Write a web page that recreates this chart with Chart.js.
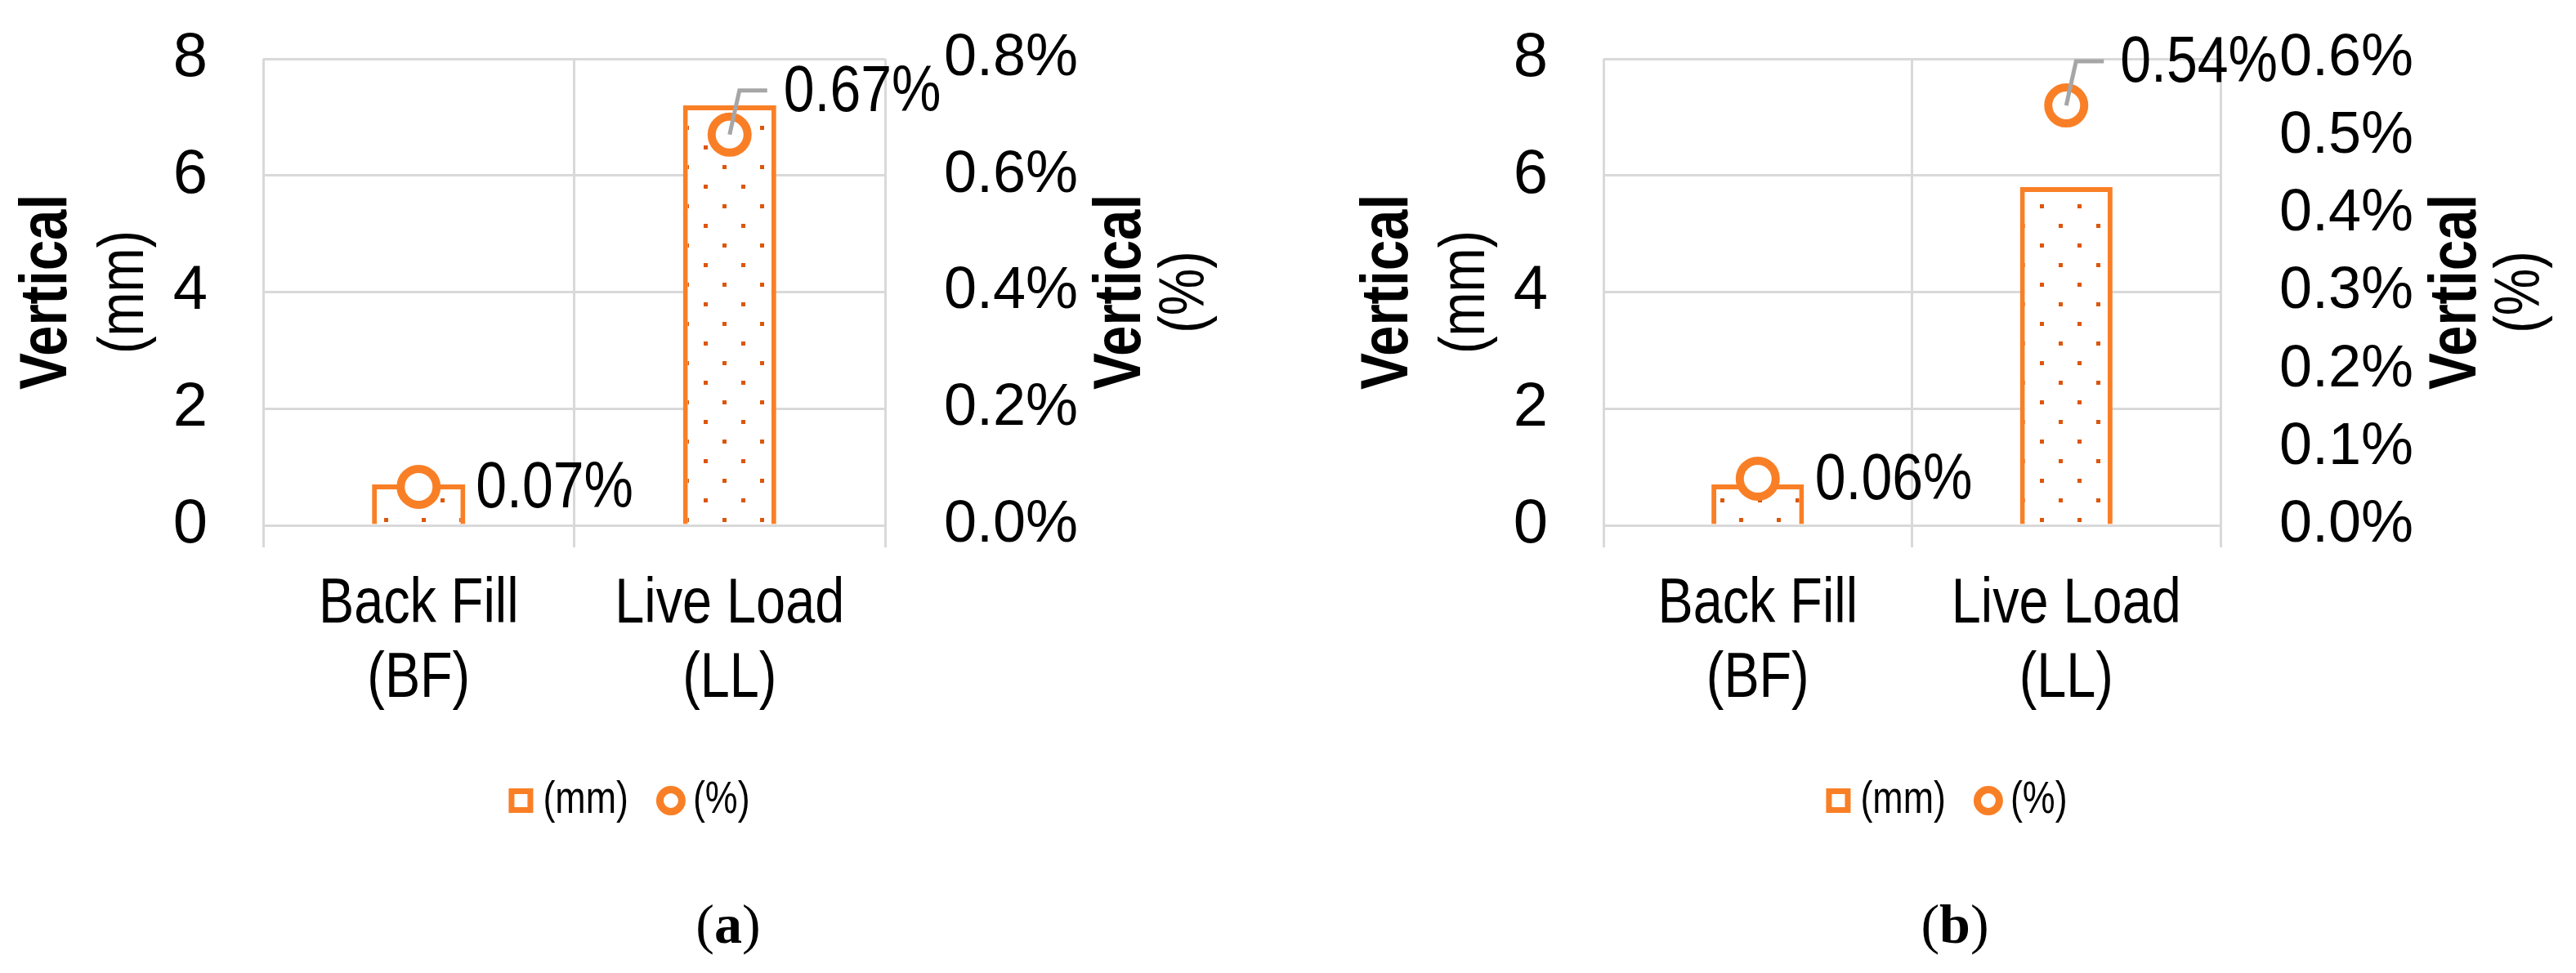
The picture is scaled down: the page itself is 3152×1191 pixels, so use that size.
<!DOCTYPE html>
<html>
<head>
<meta charset="utf-8">
<script src="https://cdn.jsdelivr.net/npm/chart.js@4.4.1/dist/chart.umd.min.js"></script>
<style>
  body { margin: 0; background: #fff; width: 3152px; height: 1191px; position: relative; overflow: hidden; }
  .panel { position: absolute; top: 0; width: 1540px; height: 1040px; }
  .cap { position: absolute; top: 1092px; font-family: 'Liberation Serif', 'Times New Roman', serif; font-size: 68px; color: #000; transform: translateX(-50%); }
</style>
</head>
<body>
<div class="panel" style="left:0"><canvas id="chartA"></canvas></div>
<div class="panel" style="left:1612px"><canvas id="chartB"></canvas></div>
<div class="cap" style="left:891px">(<b>a</b>)</div>
<div class="cap" style="left:2392px">(<b>b</b>)</div>
<script>
// données
const categories = [['Back Fill', '(BF)'], ['Live Load', '(LL)']];
const seriesNames = ['(mm)', '(%)'];
const mmA = [0.7, 7.2];      // tassement vertical (mm) - cas (a)
const pctA = [0.066, 0.67];  // tassement vertical (%) - cas (a)
const mmB = [0.7, 5.8];      // cas (b)
const pctB = [0.06, 0.54];
const mmAxis = { max: 8, step: 2 };
const pctAxisA = { max: 0.8, step: 0.2 };
const pctAxisB = { max: 0.6, step: 0.1 };

const ORANGE = '#F97F26';
const GRID = '#D9D9D9';
const SANS = "'Liberation Sans', Arial, sans-serif";
const COND = 0.83;  // le texte de la figure est étroit (pas de police "Narrow" installée)

function dotPattern() {
    const c = document.createElement('canvas');
    c.width = 46; c.height = 48;
    const g = c.getContext('2d');
    g.fillStyle = '#fff';
    g.fillRect(0, 0, 46, 48);
    g.fillStyle = '#DC560B';
    g.fillRect(10, 10, 5, 5);
    g.fillRect(33, 34, 5, 5);
    return g.createPattern(c, 'repeat');
}

function drawCondensed(ctx, text, x, y, sx) {
    ctx.save();
    ctx.translate(x, y);
    ctx.scale(sx, 1);
    ctx.fillText(text, 0, 0);
    ctx.restore();
}

// étiquettes des points (%), avec trait de rappel gris pour la valeur haute
const pointLabels = {
    id: 'pointLabels',
    afterDatasetsDraw(chart, args, opts) {
        const meta = chart.getDatasetMeta(1);
        const values = chart.data.datasets[1].data;
        const ctx = chart.ctx;
        ctx.save();
        ctx.font = '80px ' + SANS;
        ctx.fillStyle = '#000';
        ctx.textAlign = 'left';
        ctx.textBaseline = 'middle';
        meta.data.forEach((pt, i) => {
            const txt = values[i].toFixed(2) + '%';
            if (opts.leader[i]) {
                ctx.strokeStyle = '#A6A6A6';
                ctx.lineWidth = 5;
                ctx.beginPath();
                ctx.moveTo(pt.x, pt.y);
                ctx.lineTo(pt.x + 12, pt.y - 54);
                ctx.lineTo(pt.x + 46, pt.y - 54);
                ctx.stroke();
                drawCondensed(ctx, txt, pt.x + 66, pt.y - 51, 0.85);
            } else {
                drawCondensed(ctx, txt, pt.x + 70, pt.y + 3, 0.85);
            }
        });
        ctx.restore();
    }
};

// libellés des catégories sur deux lignes
const categoryLabels = {
    id: 'categoryLabels',
    afterDraw(chart) {
        const ctx = chart.ctx;
        const xs = chart.scales.x;
        const base = chart.chartArea.bottom;
        ctx.save();
        ctx.font = '78px ' + SANS;
        ctx.fillStyle = '#000';
        ctx.textAlign = 'center';
        ctx.textBaseline = 'middle';
        chart.data.labels.forEach((lines, i) => {
            const cx = xs.getPixelForValue(i);
            lines.forEach((t, k) => drawCondensed(ctx, t, cx, base + 97 + k * 91, COND));
        });
        ctx.restore();
    }
};

// titres d'axes verticaux (lus de bas en haut des deux côtés)
const sideTitles = {
    id: 'sideTitles',
    afterDraw(chart, args, opts) {
        const { ctx, chartArea: a } = chart;
        const cy = (a.top + a.bottom) / 2;
        opts.items.forEach(it => {
            const x = it.side === 'left' ? a.left - it.dist : a.right + it.dist;
            ctx.save();
            ctx.translate(x, cy);
            ctx.rotate(-Math.PI / 2);
            ctx.scale(COND, 1);
            ctx.font = it.font;
            ctx.fillStyle = '#000';
            ctx.textAlign = 'center';
            ctx.textBaseline = 'middle';
            ctx.fillText(it.text, 0, 0);
            ctx.restore();
        });
    }
};

// légende en bas : carré (mm) et cercle (%)
const legendRow = {
    id: 'legendRow',
    afterDraw(chart, args, opts) {
        const ctx = chart.ctx;
        const y = opts.y;
        ctx.save();
        ctx.font = '56px ' + SANS;
        const w1 = ctx.measureText(seriesNames[0]).width * 0.8;
        const w2 = ctx.measureText(seriesNames[1]).width * 0.8;
        const total = 30 + 12 + w1 + 34 + 36 + 9 + w2;
        let x = chart.width / 2 - total / 2;
        ctx.strokeStyle = ORANGE;
        ctx.fillStyle = '#fff';
        ctx.lineWidth = 7;
        ctx.fillRect(x, y - 15, 30, 30);
        ctx.strokeRect(x + 3.5, y - 15 + 3.5, 23, 23);
        x += 30 + 12;
        ctx.fillStyle = '#000';
        ctx.textAlign = 'left';
        ctx.textBaseline = 'middle';
        drawCondensed(ctx, seriesNames[0], x, y, 0.8);
        x += w1 + 34;
        ctx.lineWidth = 9;
        ctx.beginPath();
        ctx.arc(x + 18, y, 13.5, 0, Math.PI * 2);
        ctx.stroke();
        x += 36 + 9;
        drawCondensed(ctx, seriesNames[1], x, y, 0.8);
        ctx.restore();
    }
};

function noPad(s) {
    s.paddingTop = 0;
    s.paddingBottom = 0;
}

function makeChart(id, mm, pct, pctAxis, leftW, rightW, leftDist) {
    const ctx = document.getElementById(id).getContext('2d');
    return new Chart(ctx, {
        type: 'bar',
        data: {
            labels: categories,
            datasets: [{
                type: 'bar',
                label: seriesNames[0],
                data: mm,
                yAxisID: 'y',
                backgroundColor: dotPattern(),
                borderColor: ORANGE,
                borderWidth: 6,
                barPercentage: 0.3,
                categoryPercentage: 1,
                order: 2
            }, {
                type: 'line',
                label: seriesNames[1],
                data: pct,
                yAxisID: 'y2',
                showLine: false,
                pointStyle: 'circle',
                pointRadius: 22,
                pointBorderWidth: 10,
                pointBackgroundColor: '#fff',
                pointBorderColor: ORANGE,
                order: 1
            }]
        },
        options: {
            responsive: true,
            maintainAspectRatio: false,
            animation: false,
            layout: { padding: { top: 72, bottom: 0, left: 0, right: 0 } },
            scales: {
                x: {
                    grid: { color: GRID, lineWidth: 3, tickLength: 27, offset: true },
                    border: { color: GRID, width: 3 },
                    ticks: { display: false },
                    afterFit: s => { s.height = 397; }
                },
                y: {
                    position: 'left',
                    min: 0, max: mmAxis.max,
                    ticks: { stepSize: mmAxis.step, color: '#000', padding: 68,
                             font: { family: SANS, size: 76 } },
                    grid: { color: GRID, lineWidth: 3, drawTicks: false },
                    border: { display: false },
                    afterFit: s => { s.width = leftW; noPad(s); }
                },
                y2: {
                    position: 'right',
                    min: 0, max: pctAxis.max,
                    ticks: { stepSize: pctAxis.step, color: '#000', padding: 72, autoSkip: false,
                             font: { family: SANS, size: 72 },
                             callback: v => v.toFixed(1) + '%' },
                    grid: { drawOnChartArea: false, drawTicks: false },
                    border: { display: false },
                    afterFit: s => { s.width = rightW; noPad(s); }
                }
            },
            plugins: {
                tooltip: { enabled: false },
                legend: { display: false },
                pointLabels: { leader: [false, true] },
                legendRow: { y: 980 },
                sideTitles: {
                    items: [
                        { side: 'left', dist: leftDist, text: 'Vertical', font: 'bold 81px ' + SANS },
                        { side: 'left', dist: leftDist - 94, text: '(mm)', font: '78px ' + SANS },
                        { side: 'right', dist: 290, text: 'Vertical', font: 'bold 81px ' + SANS },
                        { side: 'right', dist: 368, text: '(%)', font: '78px ' + SANS }
                    ]
                }
            }
        },
        plugins: [pointLabels, categoryLabels, sideTitles, legendRow]
    });
}

makeChart('chartA', mmA, pctA, pctAxisA, 322, 457, 263);
makeChart('chartB', mmB, pctB, pctAxisB, 350, 435, 262);
</script>
</body>
</html>
